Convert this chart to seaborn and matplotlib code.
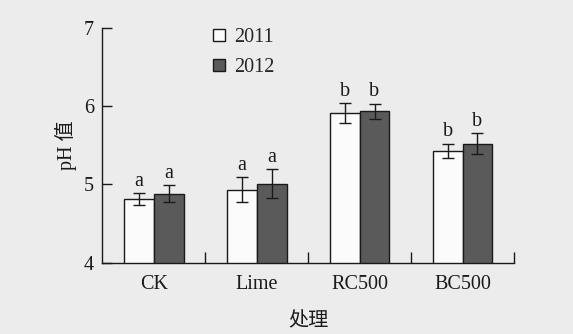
import matplotlib
matplotlib.use("Agg")
import matplotlib.pyplot as plt
import seaborn as sns
import pandas as pd
import numpy as np
from matplotlib.patches import Patch

treatments = ["CK", "Lime", "RC500", "BC500"]
years = ["2011", "2012"]
ph_2011 = [4.81, 4.93, 5.91, 5.43]
ph_2012 = [4.88, 5.01, 5.93, 5.52]
sd_2011 = [0.08, 0.16, 0.13, 0.09]
sd_2012 = [0.11, 0.18, 0.10, 0.13]
letters_2011 = ["a", "a", "b", "b"]
letters_2012 = ["a", "a", "b", "b"]

df = pd.DataFrame({
    "处理": treatments * 2,
    "year": ["2011"] * 4 + ["2012"] * 4,
    "pH": ph_2011 + ph_2012,
})

sns.set_style("ticks")
plt.rcParams["font.family"] = ["Liberation Serif", "Noto Sans CJK SC"]
plt.rcParams["axes.unicode_minus"] = False

bg = "#ececec"
ink = "#1a1a1a"
fs = 14.5
fig = plt.figure(figsize=(5.73, 3.34), dpi=100, facecolor=bg)
ax = fig.add_axes([0.1785, 0.2135, 0.7185, 0.704])
ax.set_facecolor(bg)

palette = {"2011": "#fbfbfb", "2012": "#5a5a5a"}
sns.barplot(data=df, x="处理", y="pH", hue="year", order=treatments,
            hue_order=years, palette=palette, errorbar=None, width=0.58,
            edgecolor=ink, linewidth=1.0, saturation=1, ax=ax,
            legend=False)

# error bars and significance letters, placed on each bar
for cont, vals, sds, lets in zip(ax.containers, [ph_2011, ph_2012],
                                 [sd_2011, sd_2012],
                                 [letters_2011, letters_2012]):
    for bar, v, s, l in zip(cont, vals, sds, lets):
        xc = bar.get_x() + bar.get_width() / 2
        ax.errorbar(xc, v, yerr=s, fmt="none", ecolor=ink,
                    elinewidth=1.0, capsize=4, capthick=1.0)
        ax.annotate(l, (xc, v + s), xytext=(0, 1.5), textcoords="offset points",
                    ha="center", va="bottom", fontsize=fs, color=ink)

ax.set_ylim(4, 7)
ax.set_xlim(-0.5, 3.5)
ax.set_yticks([4, 5, 6, 7])
ax.set_xticks(range(4))
ax.set_xticklabels(treatments)
ax.tick_params(axis="x", length=0, labelsize=fs, pad=9, colors=ink)
ax.tick_params(axis="y", direction="in", length=7, width=1.0, labelsize=fs,
               pad=6, colors=ink)
# group separators on the x axis
ax.set_xticks([0.5, 1.5, 2.5, 3.5], minor=True)
ax.tick_params(axis="x", which="minor", direction="in", length=8, width=1.0,
               color=ink)

for side in ["top", "right"]:
    ax.spines[side].set_visible(False)
for side in ["left", "bottom"]:
    ax.spines[side].set_color(ink)
    ax.spines[side].set_linewidth(1.0)

ax.set_ylabel("pH 值", fontsize=fs, labelpad=5, color=ink)
ax.set_xlabel("处理", fontsize=fs, labelpad=13, color=ink)

handles = [Patch(facecolor=palette[y], edgecolor=ink, linewidth=1.0)
           for y in years]
ax.legend(handles, years, loc="upper left", bbox_to_anchor=(0.225, 1.075),
          frameon=False, fontsize=fs, handlelength=0.6, handleheight=0.6,
          handletextpad=0.45, labelspacing=0.55)

fig.savefig("out.png", dpi=100, facecolor=bg)
